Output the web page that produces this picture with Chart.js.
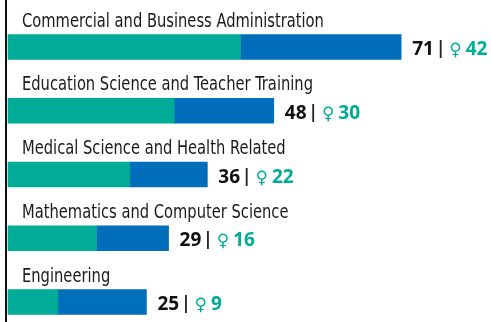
<!DOCTYPE html>
<html lang="en">
<head>
  <meta charset="UTF-8">
  <title>Graduates by field</title>
  <script src="https://cdn.jsdelivr.net/npm/chart.js"></script>
  <style>
    body { margin: 0; padding: 0; background: #fff; }
    #wrap { width: 491px; height: 322px; position: relative; }
  </style>
</head>
<body>
  <div id="wrap"><canvas id="fieldChart"></canvas></div>
  <script>
    const fields = [
      'Commercial and Business Administration',
      'Education Science and Teacher Training',
      'Medical Science and Health Related',
      'Mathematics and Computer Science',
      'Engineering'
    ];
    const totals = [71, 48, 36, 29, 25];
    const women = [42, 30, 22, 16, 9];
    const men = totals.map((t, i) => t - women[i]);

    const TEAL = '#00ab98';
    const BLUE = '#006eba';

    // category names above each bar, totals and female counts to the right
    const labelPlugin = {
      id: 'labelPlugin',
      afterDatasetsDraw(chart) {
        const ctx = chart.ctx;
        ctx.save();
        ctx.fillStyle = '#111';
        ctx.fillRect(5, 0, 2, chart.height);

        const metaW = chart.getDatasetMeta(0);
        const metaM = chart.getDatasetMeta(1);
        fields.forEach((name, i) => {
          const barW = metaW.data[i];
          const barM = metaM.data[i];
          const top = barW.y - barW.height / 2;

          // narrow face: squeeze the condensed font horizontally
          ctx.save();
          ctx.translate(22, top - 8);
          ctx.scale(0.86, 1);
          ctx.font = '19px "DejaVu Sans Condensed", sans-serif';
          ctx.fillStyle = '#1a1a1a';
          ctx.textBaseline = 'alphabetic';
          ctx.textAlign = 'left';
          ctx.fillText(name, 0, 0);
          ctx.restore();

          let x = barM.x + 11;
          const y = barW.y + 8;
          ctx.textAlign = 'left';
          ctx.font = 'bold 19px "Open Sans", sans-serif';
          ctx.fillStyle = '#111';
          ctx.fillText(String(totals[i]), x, y);
          x += ctx.measureText(String(totals[i])).width + 2;
          ctx.font = 'bold 17px "Open Sans", sans-serif';
          ctx.fillStyle = '#222';
          ctx.fillText('|', x, y - 1);
          x += ctx.measureText('|').width + 4;
          ctx.font = '17px "DejaVu Sans", sans-serif';
          ctx.fillStyle = TEAL;
          ctx.fillText('\u2640', x, y);
          x += ctx.measureText('\u2640').width + 4;
          ctx.font = 'bold 19px "Open Sans", sans-serif';
          ctx.fillText(String(women[i]), x, y);
        });
        ctx.restore();
      }
    };

    new Chart(document.getElementById('fieldChart'), {
      type: 'bar',
      data: {
        labels: fields,
        datasets: [
          { label: 'Women', data: women, backgroundColor: TEAL, clip: false },
          { label: 'Men', data: men, backgroundColor: BLUE, clip: false }
        ]
      },
      options: {
        indexAxis: 'y',
        responsive: true,
        maintainAspectRatio: false,
        animation: false,
        barThickness: 25,
        layout: { padding: { left: 8, right: 40, top: 47, bottom: 20 } },
        plugins: { legend: { display: false }, tooltip: { enabled: false } },
        scales: {
          x: { stacked: true, min: 0, max: 80, display: false },
          y: { stacked: true, offset: false, display: false }
        }
      },
      plugins: [labelPlugin]
    });
  </script>
</body>
</html>
